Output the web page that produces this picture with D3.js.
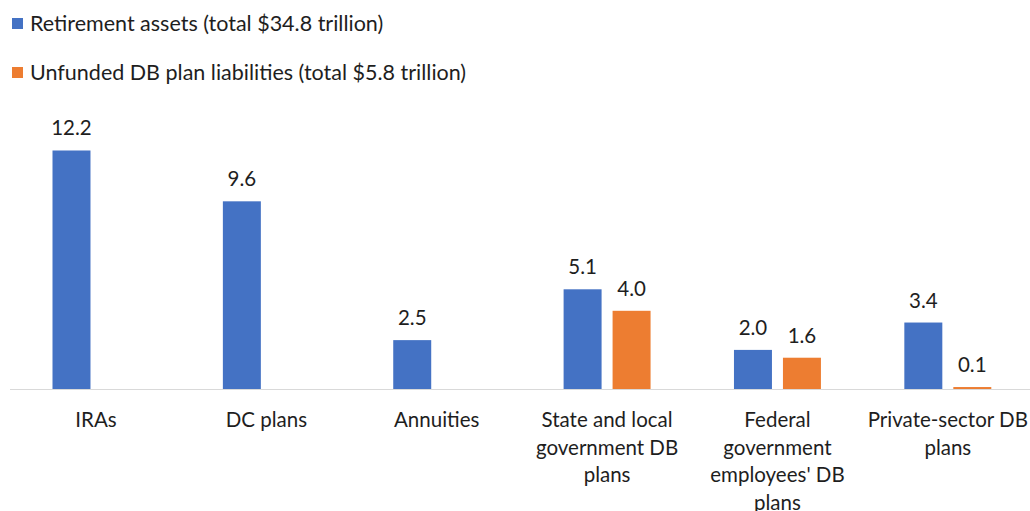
<!DOCTYPE html>
<html>
<head>
<meta charset="utf-8">
<script src="https://cdn.jsdelivr.net/npm/d3@7"></script>
<style>
  html, body { margin: 0; padding: 0; background: #fff; }
  svg { display: block; }
  text { font-family: Lato, "Open Sans", sans-serif; fill: #1e1e1e; }
</style>
</head>
<body>
<svg id="chart" width="1030" height="511"></svg>
<script>
// Retirement assets vs. unfunded defined-benefit liabilities, trillions of dollars
const categories = [
  "IRAs",
  "DC plans",
  "Annuities",
  "State and local government DB plans",
  "Federal government employees' DB plans",
  "Private-sector DB plans"
];
const categoryLines = [
  ["IRAs"],
  ["DC plans"],
  ["Annuities"],
  ["State and local", "government DB", "plans"],
  ["Federal", "government", "employees' DB", "plans"],
  ["Private-sector DB", "plans"]
];
const seriesNames = [
  "Retirement assets (total $34.8 trillion)",
  "Unfunded DB plan liabilities (total $5.8 trillion)"
];
const retirementAssets = [12.2, 9.6, 2.5, 5.1, 2.0, 3.4];
const unfundedLiabilities = [null, null, null, 4.0, 1.6, 0.1];
const seriesColors = ["#4472C4", "#ED7D31"];

const svg = d3.select("#chart");
const baseY = 389;

const x0 = d3.scaleBand()
  .domain(categories)
  .range([10.8, 1033])
  .paddingInner(0)
  .paddingOuter(0);

const x1 = d3.scaleBand()
  .domain(d3.range(seriesNames.length))
  .range([41.7, x0.bandwidth() - 41.7])
  .paddingInner(0.2245);

const y = d3.scaleLinear()
  .domain([0, 14])
  .range([baseY, baseY - 14 * 19.55]);

const seriesData = [retirementAssets, unfundedLiabilities];

// bars + value labels
seriesData.forEach((values, si) => {
  const rows = categories.map((c, i) => ({ c, v: values[i] })).filter(d => d.v != null);
  const g = svg.append("g");
  g.selectAll("rect")
    .data(rows)
    .join("rect")
    .attr("x", d => x0(d.c) + x1(si))
    .attr("y", d => y(d.v))
    .attr("width", x1.bandwidth())
    .attr("height", d => y(0) - y(d.v))
    .attr("fill", seriesColors[si]);
  g.selectAll("text")
    .data(rows)
    .join("text")
    .attr("x", d => x0(d.c) + x1(si) + x1.bandwidth() / 2)
    .attr("y", d => y(d.v) - 15)
    .attr("text-anchor", "middle")
    .style("font-size", "20.5px")
    .text(d => d3.format(".1f")(d.v));
});

// category axis
const axis = svg.append("g")
  .attr("transform", `translate(0,${baseY + 0.5})`)
  .call(d3.axisBottom(x0).tickSize(0).tickFormat(""));
axis.select(".domain").attr("stroke", "#d9d9d9").attr("d", "M10,0H1030");

axis.selectAll(".tick").each(function(d, i) {
  const t = d3.select(this).append("text")
    .attr("text-anchor", "middle")
    .attr("y", 37.5)
    .style("font-size", "20.5px");
  categoryLines[i].forEach((line, li) => {
    t.append("tspan")
      .attr("x", 0)
      .attr("dy", li === 0 ? 0 : 27.6)
      .text(line);
  });
});

// legend
const legend = svg.append("g");
seriesNames.forEach((name, i) => {
  const row = legend.append("g").attr("transform", `translate(12,${18 + i * 49})`);
  row.append("rect").attr("width", 11).attr("height", 11).attr("fill", seriesColors[i]);
  row.append("text")
    .attr("x", 18)
    .attr("y", 12.5)
    .style("font-size", "21.5px")
    .text(name);
});
</script>
</body>
</html>
